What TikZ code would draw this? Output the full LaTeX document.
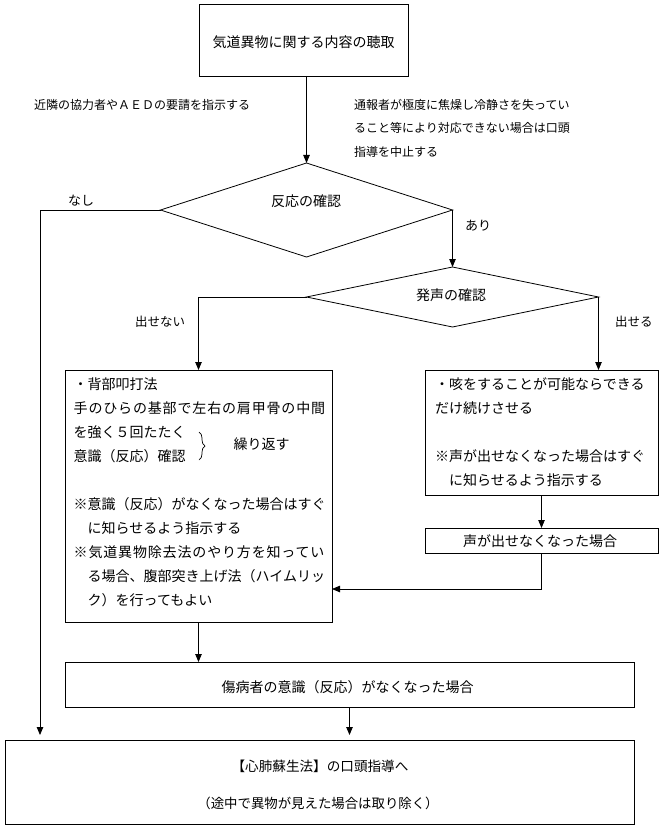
\documentclass[tikz,border=0pt]{standalone}
\usepackage{fontspec}
\setmainfont{Noto Sans CJK JP}
\usetikzlibrary{arrows.meta,shapes.geometric,decorations.pathreplacing}
\begin{document}
\begin{tikzpicture}[x=1pt,y=-1pt,
  box/.style={draw,line width=0.8pt,inner sep=0pt,outer sep=0pt},
  dia/.style={draw,diamond,line width=0.8pt,inner sep=0pt,outer sep=0pt},
  btxt/.style={inner sep=0pt,anchor=base,font=\fontsize{14}{16}\selectfont},
  ltxt/.style={inner sep=0pt,anchor=base west,font=\fontsize{14}{16}\selectfont},
  wtxt/.style={inner sep=0pt,anchor=base west,font=\fontsize{14}{16}\selectfont\addfontfeatures{LetterSpace=6}},
  lbl/.style={inner sep=0pt,anchor=base west,font=\fontsize{12}{14}\selectfont},
  arr/.style={draw,line width=0.8pt,-{Triangle[length=8pt,width=6.5pt]}}]
\fill[white] (0,0) rectangle (659,829);
\useasboundingbox (0,0) rectangle (659,829);
% boxes
\node[box,minimum width=209pt,minimum height=72pt] (top) at (303.5,40) {};
\node[btxt] (toptxt) at (303.5,48) {気道異物に関する内容の聴取};
\node[dia,minimum width=292pt,minimum height=94pt] (d1) at (306.5,210) {};
\node[btxt] (d1t) at (306,206) {反応の確認};
\node[dia,minimum width=292pt,minimum height=60pt] (d2) at (452.5,297) {};
\node[btxt] (d2t) at (451,300) {発声の確認};
\node[box,minimum width=267pt,minimum height=252pt] (leftbox) at (198.5,496) {};
\node[box,minimum width=233pt,minimum height=125pt] (rightbox) at (541.5,432.5) {};
\node[box,minimum width=233pt,minimum height=25pt] (smallbox) at (541.5,540.5) {};
\node[btxt] (smalltxt) at (540,546) {声が出せなくなった場合};
\node[box,minimum width=569pt,minimum height=45pt] (midbox) at (349.5,684.5) {};
\node[btxt] (midtxt) at (347.5,692) {傷病者の意識（反応）がなくなった場合};
\node[box,minimum width=629pt,minimum height=84pt] (botbox) at (319.5,782) {};
\node[btxt,font=\fontsize{13.6}{16}\selectfont] (bot1) at (320,771) {【心肺蘇生法】の口頭指導へ};
\node[btxt,font=\fontsize{13.4}{16}\selectfont] (bot2) at (318,808) {（途中で異物が見えた場合は取り除く）};
% left box text
\node[ltxt] (La1) at (73.5,389) {・背部叩打法};
\node[wtxt] (La2) at (73.5,413) {手のひらの基部で左右の肩甲骨の中間};
\node[ltxt] (La3) at (73.5,437) {を強く５回たたく};
\node[ltxt] (La4) at (73.5,461) {意識（反応）確認};
\node[ltxt] (Lb1) at (73.5,509) {※意識（反応）がなくなった場合はすぐ};
\node[ltxt] (Lb2) at (73.5,533) {　に知らせるよう指示する};
\node[wtxt] (Lb3) at (73.5,557) {※気道異物除去法のやり方を知ってい};
\node[ltxt] (Lb4) at (73.5,581) {　る場合、腹部突き上げ法（ハイムリッ};
\node[ltxt] (Lb5) at (73.5,605) {　ク）を行ってもよい};
\draw[line width=0.7pt,decorate,decoration={brace,amplitude=6pt}] (199,432) -- (199,460);
\node[ltxt] (rep) at (233.5,449) {繰り返す};
% right box text
\node[ltxt] (R1) at (435,389) {・咳をすることが可能ならできる};
\node[ltxt] (R2) at (435,413) {だけ続けさせる};
\node[ltxt] (R3) at (435,461) {※声が出せなくなった場合はすぐ};
\node[ltxt] (R4) at (435,485) {　に知らせるよう指示する};
% labels
\node[lbl] (n1) at (34,109.5) {近隣の協力者やＡＥＤの要請を指示する};
\node[lbl] (n2) at (354,109.5) {通報者が極度に焦燥し冷静さを失ってい};
\node[lbl] (n3) at (354,133) {ること等により対応できない場合は口頭};
\node[lbl] (n4) at (354,156.5) {指導を中止する};
\node[lbl,font=\fontsize{13}{14}\selectfont] (nashi) at (68,205.5) {なし};
\node[lbl,font=\fontsize{13}{14}\selectfont] (ari) at (465,230.5) {あり};
\node[lbl,font=\fontsize{12.5}{14}\selectfont] (dasenai) at (135,326.5) {出せない};
\node[lbl,font=\fontsize{12.5}{14}\selectfont] (daseru) at (615,326.5) {出せる};
% connectors
\coordinate (nl) at (40,735);
\coordinate (jy) at (0,589);
\draw[arr] (top.south -| d1.north) -- (d1.north);
\draw[arr] (d1.west) -| (nl);
\draw[arr] (d1.east) -- (d2.north);
\draw[arr] (d2.west) -| (leftbox.north);
\draw[arr] (d2.east) -- (d2.east |- rightbox.north);
\draw[arr] (rightbox.south) -- (smallbox.north);
\draw[arr] (smallbox.south) |- (leftbox.east |- jy);
\draw[arr] (leftbox.south) -- (leftbox.south |- midbox.north);
\draw[arr] (midbox.south) -- (midbox.south |- nl);
\end{tikzpicture}
\end{document}
